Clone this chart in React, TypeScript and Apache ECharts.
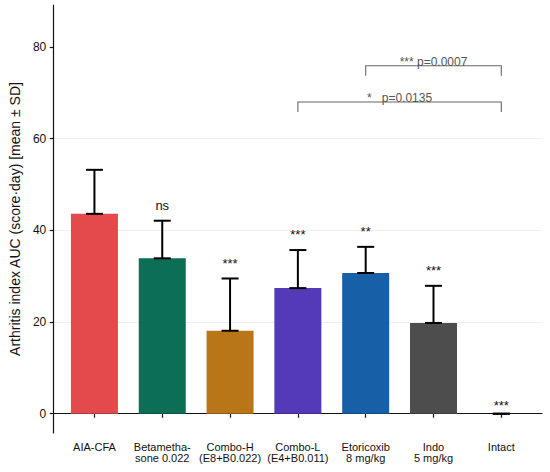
import React, { useEffect, useRef } from "react";
import * as echarts from "echarts";

const categories = [
  "AIA-CFA",
  "Betametha-\nsone 0.022",
  "Combo-H\n(E8+B0.022)",
  "Combo-L\n(E4+B0.011)",
  "Etoricoxib\n8 mg/kg",
  "Indo\n5 mg/kg",
  "Intact",
];
const means = [43.6, 33.9, 18.1, 27.4, 30.7, 19.8, 0];
const sds = [9.6, 8.2, 11.4, 8.3, 5.7, 8.1, 0];
const barColors = ["#E34A4C", "#0D6E56", "#B97619", "#5439B8", "#175FA6", "#4D4D4D", "#4D4D4D"];
const sigLabels = ["", "ns", "***", "***", "**", "***", "***"];
const sigLabelY = [0, 44.4, 31.8, 38.0, 38.7, 30.2, 0.85];
const yTicks = [0, 20, 40, 60, 80];
const xTicks = [1, 2, 3, 4, 5, 6, 7];

const bracketStart = [5, 4];
const bracketEnd = [7, 7];
const bracketY = [75.9, 68.0];
const bracketText = ["*** p=0.0007", "*\u00A0\u00A0\u00A0p=0.0135"];

const FONT = "Liberation Sans";

export default function App() {
  const ref = useRef<HTMLDivElement>(null);
  useEffect(() => {
    if (!ref.current) return;
    const chart = echarts.init(ref.current, undefined, { renderer: "svg" });
    const option: any = {
      animation: false,
      backgroundColor: "#ffffff",
      textStyle: { fontFamily: FONT },
      grid: { left: 48, right: 8, top: 5, bottom: 39 },
      xAxis: {
        type: "value",
        min: 0.4,
        max: 7.6,
        splitLine: { show: false },
        axisLine: { show: true, lineStyle: { color: "#111", width: 1.2 } },
        axisTick: { show: true, length: 4, customValues: xTicks, lineStyle: { color: "#111", width: 1.2 } },
        axisLabel: {
          customValues: xTicks,
          formatter: (v: number) => categories[Math.round(v) - 1] ?? "",
          color: "#111",
          fontSize: 11,
          lineHeight: 11,
          margin: 8,
          fontFamily: FONT,
        },
      },
      yAxis: {
        type: "value",
        min: -4.2,
        max: 89.15,
        name: "Arthritis index AUC (score\u00B7day) [mean \u00B1 SD]",
        nameLocation: "middle",
        nameGap: 23,
        nameTextStyle: { fontSize: 14, color: "#111", fontFamily: FONT },
        axisLine: { show: true, lineStyle: { color: "#111", width: 1.2 } },
        axisTick: { show: true, length: 4, customValues: yTicks, lineStyle: { color: "#111", width: 1.2 } },
        axisLabel: { customValues: yTicks, color: "#111", fontSize: 12, margin: 7.5, fontFamily: FONT },
        splitLine: { show: true, showMinLine: false, showMaxLine: false, lineStyle: { color: "#EBEBEB", width: 0.8 } },
      },
      series: [
        {
          type: "bar",
          barWidth: 47,
          data: means.map((m, i) => ({ value: [i + 1, m], itemStyle: { color: barColors[i] } })),
          z: 2,
        },
        {
          type: "custom",
          z: 3,
          data: means.map((m, i) => [i + 1, m, m + sds[i]]),
          encode: { x: 0, y: [1, 2] },
          renderItem: (params: any, api: any) => {
            const x = api.value(0);
            const lo = api.coord([x, api.value(1)]);
            const hi = api.coord([x, api.value(2)]);
            const hw = 8.5;
            const st = { stroke: "#000", lineWidth: 2 };
            return {
              type: "group",
              children: [
                { type: "line", shape: { x1: lo[0], y1: lo[1], x2: hi[0], y2: hi[1] }, style: st },
                { type: "line", shape: { x1: hi[0] - hw, y1: hi[1], x2: hi[0] + hw, y2: hi[1] }, style: st },
                { type: "line", shape: { x1: lo[0] - hw, y1: lo[1], x2: lo[0] + hw, y2: lo[1] }, style: st },
              ],
            };
          },
        },
        {
          type: "custom",
          z: 4,
          data: sigLabelY.map((y, i) => [i + 1, y]),
          encode: { x: 0, y: 1 },
          renderItem: (params: any, api: any) => {
            const i = params.dataIndex;
            const p = api.coord([api.value(0), api.value(1)]);
            return {
              type: "text",
              x: p[0],
              y: p[1] - 0.35 * 13,
              style: {
                text: sigLabels[i],
                fill: "#111",
                fontSize: 13,
                fontFamily: FONT,
                align: "center",
                verticalAlign: "middle",
              },
            };
          },
        },
        {
          type: "custom",
          z: 4,
          data: bracketY.map((y, i) => [bracketStart[i], bracketEnd[i], y]),
          encode: { x: [0, 1], y: 2 },
          renderItem: (params: any, api: any) => {
            const i = params.dataIndex;
            const a = api.coord([api.value(0), api.value(2)]);
            const b = api.coord([api.value(1), api.value(2)]);
            const drop = 10;
            return {
              type: "group",
              children: [
                {
                  type: "polyline",
                  shape: { points: [[a[0], a[1] + drop], [a[0], a[1]], [b[0], b[1]], [b[0], b[1] + drop]] },
                  style: { stroke: "#666", lineWidth: 1.1, fill: "none" },
                },
                {
                  type: "text",
                  x: (a[0] + b[0]) / 2,
                  y: a[1] - 0.35 * 12,
                  style: {
                    text: bracketText[i],
                    fill: "#555",
                    fontSize: 12,
                    fontFamily: FONT,
                    align: "center",
                    verticalAlign: "middle",
                  },
                },
              ],
            };
          },
        },
      ],
    };
    chart.setOption(option);
    return () => chart.dispose();
  }, []);
  return (
    <div
      ref={ref}
      style={{ position: "fixed", left: 0, top: 0, width: 550, height: 472, background: "#fff" }}
    />
  );
}
